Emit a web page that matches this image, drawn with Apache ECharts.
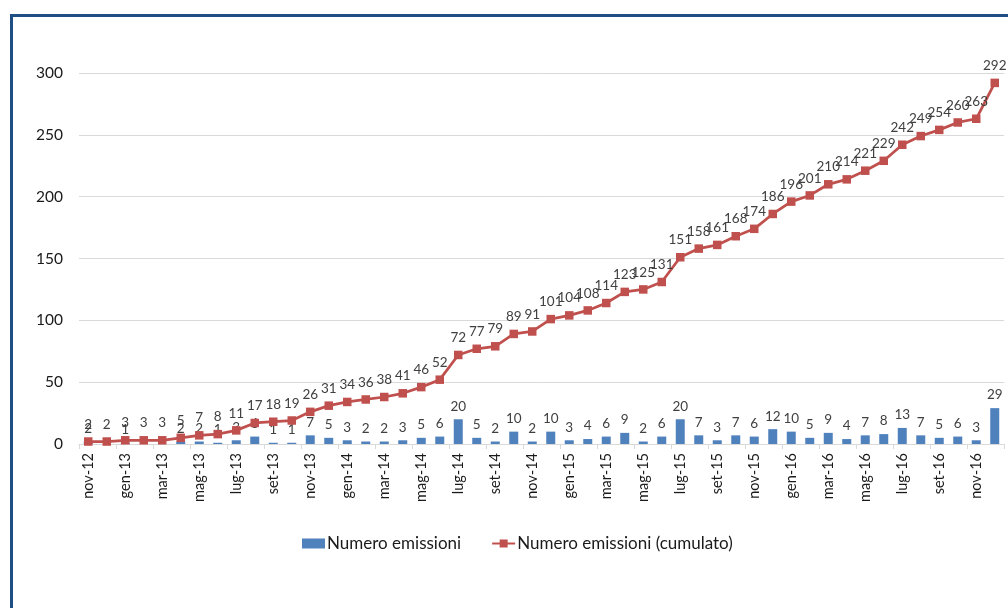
<!DOCTYPE html>
<html>
<head>
<meta charset="utf-8">
<script src="https://cdn.jsdelivr.net/npm/echarts@6/dist/echarts.min.js"></script>
<style>
  html, body { margin: 0; padding: 0; background: #fff; }
  #chart { width: 1008px; height: 608px; }
</style>
</head>
<body>
<div id="chart"></div>
<script>
// Months from nov-12 to dic-16
const months = [
  'nov-12','dic-12',
  'gen-13','feb-13','mar-13','apr-13','mag-13','giu-13','lug-13','ago-13','set-13','ott-13','nov-13','dic-13',
  'gen-14','feb-14','mar-14','apr-14','mag-14','giu-14','lug-14','ago-14','set-14','ott-14','nov-14','dic-14',
  'gen-15','feb-15','mar-15','apr-15','mag-15','giu-15','lug-15','ago-15','set-15','ott-15','nov-15','dic-15',
  'gen-16','feb-16','mar-16','apr-16','mag-16','giu-16','lug-16','ago-16','set-16','ott-16','nov-16','dic-16'
];

// Issues per month
const emissioni = [
  2, 0,
  1, 0, 0, 2, 2, 1, 3, 6, 1, 1, 7, 5,
  3, 2, 2, 3, 5, 6, 20, 5, 2, 10, 2, 10,
  3, 4, 6, 9, 2, 6, 20, 7, 3, 7, 6, 12,
  10, 5, 9, 4, 7, 8, 13, 7, 5, 6, 3, 29
];

// Running total of issues
const cumulato = [
  2, 2,
  3, 3, 3, 5, 7, 8, 11, 17, 18, 19, 26, 31,
  34, 36, 38, 41, 46, 52, 72, 77, 79, 89, 91, 101,
  104, 108, 114, 123, 125, 131, 151, 158, 161, 168, 174, 186,
  196, 201, 210, 214, 221, 229, 242, 249, 254, 260, 263, 292
];

const yTicks = [0, 50, 100, 150, 200, 250, 300];

const FONT = 'Lato, "Open Sans", sans-serif';
const chart = echarts.init(document.getElementById('chart'), null, { renderer: 'canvas' });

chart.setOption({
  animation: false,
  backgroundColor: '#ffffff',
  textStyle: { fontFamily: FONT },
  graphic: [{
    type: 'rect',
    shape: { x: 11.5, y: 15.5, width: 1100, height: 700 },
    style: { fill: 'none', stroke: '#1F4E85', lineWidth: 3 },
    silent: true
  }],
  grid: { left: 79, right: 4, top: 73, bottom: 164, containLabel: false },
  legend: {
    bottom: 51,
    left: 297,
    itemGap: 30,
    itemWidth: 23,
    itemHeight: 10,
    textStyle: { fontFamily: FONT, fontSize: 17, color: '#1a1a1a', padding: [0, 0, 0, -3] },
    data: [
      { name: 'Numero emissioni', icon: 'rect' },
      { name: 'Numero emissioni (cumulato)' }
    ]
  },
  xAxis: {
    type: 'category',
    data: months,
    boundaryGap: true,
    axisLine: { lineStyle: { color: '#d9d9d9', width: 1 } },
    axisTick: { show: true, interval: 1, length: 5, lineStyle: { color: '#d9d9d9' } },
    axisLabel: {
      interval: 1,
      rotate: 90,
      fontFamily: FONT,
      fontSize: 14.5,
      color: '#1a1a1a',
      margin: 9
    }
  },
  yAxis: {
    type: 'value',
    min: yTicks[0],
    max: yTicks[yTicks.length - 1],
    interval: 50,
    axisLine: { show: false },
    axisTick: { show: false },
    splitLine: { lineStyle: { color: '#d9d9d9', width: 1 } },
    axisLabel: { fontFamily: FONT, fontSize: 15.5, color: '#1a1a1a', margin: 16 }
  },
  series: [
    {
      name: 'Numero emissioni',
      type: 'bar',
      data: emissioni,
      barWidth: 9,
      itemStyle: { color: '#4F81BD' },
      label: {
        show: true,
        position: 'top',
        distance: 6,
        fontFamily: FONT,
        fontSize: 13.5,
        color: '#404040',
        formatter: p => (p.value === 0 ? '' : String(p.value))
      },
      z: 2
    },
    {
      name: 'Numero emissioni (cumulato)',
      type: 'line',
      data: cumulato,
      symbol: 'rect',
      symbolSize: 8.5,
      itemStyle: { color: '#C0504D' },
      lineStyle: { color: '#C0504D', width: 2.75 },
      label: {
        show: true,
        position: 'top',
        distance: 6,
        fontFamily: FONT,
        fontSize: 13.5,
        color: '#404040'
      },
      z: 3
    }
  ]
});
</script>
</body>
</html>
